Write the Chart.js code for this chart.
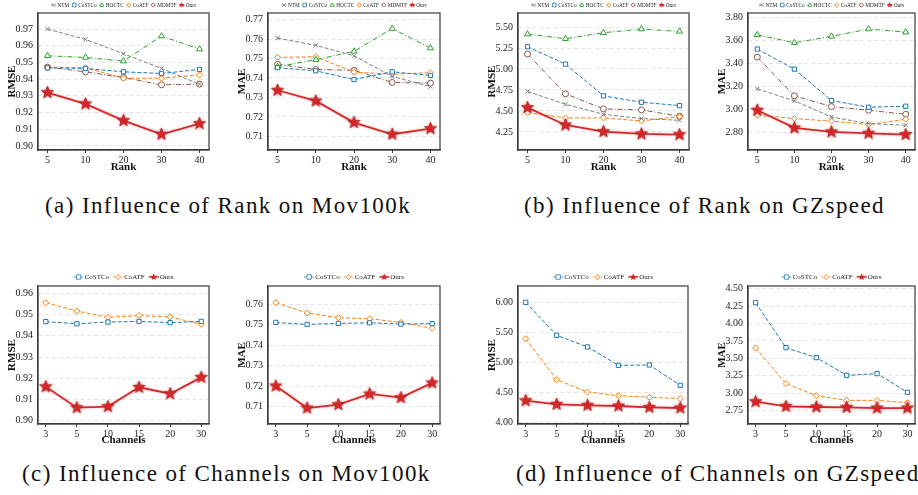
<!DOCTYPE html>
<html>
<head>
<meta charset="utf-8">
<script src="https://cdn.jsdelivr.net/npm/chart.js@4.4.0/dist/chart.umd.min.js"></script>
<style>
  body { margin: 0; background: #fff; width: 918px; height: 495px; position: relative; overflow: hidden; }
  canvas { position: absolute; }
  .cap { position: absolute; font-family: "Liberation Serif", serif; font-size: 23px; line-height: 23px;
         letter-spacing: 1.4px; white-space: nowrap; color: #111; }
</style>
</head>
<body>
<canvas id="p1"></canvas><canvas id="p2"></canvas><canvas id="p3"></canvas><canvas id="p4"></canvas>
<canvas id="p5"></canvas><canvas id="p6"></canvas><canvas id="p7"></canvas><canvas id="p8"></canvas>
<div class="cap" style="left:45px;top:194px">(a) Influence of Rank on Mov100k</div>
<div class="cap" style="left:524px;top:194px">(b) Influence of Rank on GZspeed</div>
<div class="cap" style="left:22px;top:462px">(c) Influence of Channels on Mov100k</div>
<div class="cap" style="left:516px;top:462px">(d) Influence of Channels on GZspeed</div>
<script>
const rankLabels = ['5', '10', '20', '30', '40'];
const channelLabels = ['3', '5', '10', '15', '20', '30'];

// (a) rank, Mov100k
const movRankRmseNTM    = [0.9700, 0.9638, 0.9552, 0.9464, 0.9370];
const movRankRmseCoSTCo = [0.9468, 0.9464, 0.9444, 0.9434, 0.9458];
const movRankRmseHOCTC  = [0.9540, 0.9530, 0.9508, 0.9658, 0.9580];
const movRankRmseCoATF  = [0.9472, 0.9468, 0.9406, 0.9406, 0.9426];
const movRankRmseMDMTF  = [0.9472, 0.9444, 0.9410, 0.9366, 0.9370];
const movRankRmseOurs   = [0.9320, 0.9252, 0.9152, 0.9070, 0.9134];

const movRankMaeNTM    = [0.7605, 0.7568, 0.7514, 0.7408, 0.7356];
const movRankMaeCoSTCo = [0.7453, 0.7437, 0.7392, 0.7432, 0.7413];
const movRankMaeHOCTC  = [0.7458, 0.7494, 0.7537, 0.7654, 0.7554];
const movRankMaeCoATF  = [0.7506, 0.7509, 0.7430, 0.7420, 0.7427];
const movRankMaeMDMTF  = [0.7470, 0.7444, 0.7439, 0.7377, 0.7374];
const movRankMaeOurs   = [0.7337, 0.7282, 0.7171, 0.7111, 0.7140];

// (b) rank, GZspeed
const gzRankRmseNTM    = [4.732, 4.580, 4.461, 4.409, 4.389];
const gzRankRmseCoSTCo = [5.265, 5.058, 4.680, 4.604, 4.564];
const gzRankRmseHOCTC  = [5.416, 5.361, 5.432, 5.476, 5.448];
const gzRankRmseCoATF  = [4.481, 4.417, 4.417, 4.381, 4.433];
const gzRankRmseMDMTF  = [5.178, 4.704, 4.525, 4.513, 4.437];
const gzRankRmseOurs   = [4.540, 4.333, 4.254, 4.226, 4.218];

const gzRankMaeNTM    = [3.180, 3.075, 2.936, 2.878, 2.864];
const gzRankMaeCoSTCo = [3.525, 3.351, 3.078, 3.020, 3.029];
const gzRankMaeHOCTC  = [3.649, 3.580, 3.635, 3.699, 3.672];
const gzRankMaeCoATF  = [2.951, 2.922, 2.899, 2.870, 2.916];
const gzRankMaeMDMTF  = [3.455, 3.119, 3.026, 2.994, 2.959];
const gzRankMaeOurs   = [2.994, 2.841, 2.806, 2.794, 2.783];

// (c) channels, Mov100k
const movChRmseCoSTCo = [0.9467, 0.9457, 0.9465, 0.9468, 0.9462, 0.9468];
const movChRmseCoATF  = [0.9556, 0.9517, 0.9487, 0.9496, 0.9489, 0.9454];
const movChRmseOurs   = [0.9160, 0.9061, 0.9066, 0.9157, 0.9127, 0.9204];

const movChMaeCoSTCo = [0.7512, 0.7502, 0.7507, 0.7510, 0.7504, 0.7506];
const movChMaeCoATF  = [0.7608, 0.7558, 0.7535, 0.7530, 0.7512, 0.7483];
const movChMaeOurs   = [0.7201, 0.7093, 0.7110, 0.7162, 0.7144, 0.7216];

// (d) channels, GZspeed
const gzChRmseCoSTCo = [6.000, 5.450, 5.256, 4.950, 4.956, 4.617];
const gzChRmseCoATF  = [5.394, 4.711, 4.506, 4.444, 4.417, 4.394];
const gzChRmseOurs   = [4.361, 4.300, 4.283, 4.272, 4.250, 4.239];

const gzChMaeCoSTCo = [4.299, 3.654, 3.511, 3.257, 3.281, 3.013];
const gzChMaeCoATF  = [3.649, 3.138, 2.965, 2.898, 2.898, 2.865];
const gzChMaeOurs   = [2.879, 2.812, 2.803, 2.798, 2.788, 2.788];

// y tick values
const ticksMovRmse  = [0.90, 0.91, 0.92, 0.93, 0.94, 0.95, 0.96, 0.97];
const ticksMovMae   = [0.71, 0.72, 0.73, 0.74, 0.75, 0.76, 0.77];
const ticksGzRmse   = [4.25, 4.50, 4.75, 5.00, 5.25, 5.50];
const ticksGzMae    = [2.80, 3.00, 3.20, 3.40, 3.60, 3.80];
const ticksMovChRmse = [0.90, 0.91, 0.92, 0.93, 0.94, 0.95, 0.96];
const ticksMovChMae  = [0.71, 0.72, 0.73, 0.74, 0.75, 0.76];
const ticksGzChRmse  = [4.00, 4.50, 5.00, 5.50, 6.00];
const ticksGzChMae   = [2.75, 3.00, 3.25, 3.50, 3.75, 4.00, 4.25, 4.50];

const FONT = '"Liberation Serif", "Times New Roman", serif';

function starPath(g, cx, cy, R, r) {
  g.beginPath();
  for (let i = 0; i < 10; i++) {
    const rad = i % 2 ? r : R;
    const a = -Math.PI / 2 + i * Math.PI / 5;
    g.lineTo(cx + rad * Math.cos(a), cy + rad * Math.sin(a));
  }
  g.closePath();
}
function makeStar(R) {
  const s = Math.ceil(R * 2 + 2);
  const c = document.createElement('canvas');
  c.width = s; c.height = s;
  const g = c.getContext('2d');
  starPath(g, s / 2, s / 2, R, R * 0.45);
  g.fillStyle = '#d62728'; g.fill();
  g.lineWidth = 0.7; g.strokeStyle = '#a81d1e'; g.stroke();
  return c;
}
const bigStar = makeStar(6.5);

const STYLE = {
  NTM:    { color: '#7f7f7f', dash: [4, 2],       marker: 'crossRot' },
  CoSTCo: { color: '#1f77b4', dash: [4, 2],       marker: 'rect' },
  HOCTC:  { color: '#2ca02c', dash: [5, 2, 1, 2], marker: 'triangle' },
  CoATF:  { color: '#ff7f0e', dash: [4, 2],       marker: 'rectRot' },
  MDMTF:  { color: '#8c564b', dash: [5, 2, 1, 2], marker: 'circle' },
  Ours:   { color: '#d62728', dash: [],           marker: 'star' }
};

// small marker for the legend handles
function legendMarker(g, name, x, y, r) {
  const st = STYLE[name];
  g.save();
  g.setLineDash([]);
  g.lineWidth = 0.8;
  g.strokeStyle = st.color;
  g.fillStyle = '#fff';
  g.beginPath();
  if (st.marker === 'rect') g.rect(x - r, y - r, 2 * r, 2 * r);
  else if (st.marker === 'rectRot') { g.moveTo(x, y - r * 1.3); g.lineTo(x + r, y); g.lineTo(x, y + r * 1.3); g.lineTo(x - r, y); g.closePath(); }
  else if (st.marker === 'triangle') { g.moveTo(x, y - r * 1.2); g.lineTo(x + r * 1.1, y + r * 0.8); g.lineTo(x - r * 1.1, y + r * 0.8); g.closePath(); }
  else if (st.marker === 'circle') g.arc(x, y, r, 0, Math.PI * 2);
  if (st.marker === 'crossRot') {
    g.moveTo(x - r, y - r); g.lineTo(x + r, y + r); g.moveTo(x + r, y - r); g.lineTo(x - r, y + r);
    g.stroke();
  } else if (st.marker === 'star') {
    starPath(g, x, y, r * 1.7, r * 0.75);
    g.fillStyle = st.color; g.fill();
  } else { g.fill(); g.stroke(); }
  g.restore();
}

const lineLegend = {
  id: 'lineLegend',
  afterDraw(chart, args, o) {
    const g = chart.ctx, ca = chart.chartArea;
    g.save();
    g.font = o.size + 'px ' + FONT;
    g.textBaseline = 'middle';
    const items = chart.data.datasets.map(ds => ({ ds, w: o.handle + o.gap + g.measureText(ds.label).width }));
    const total = items.reduce((s, it) => s + it.w, 0) + o.spacing * (items.length - 1);
    let x = (ca.left + ca.right) / 2 - total / 2;
    const y = ca.top - o.dy;
    items.forEach(it => {
      const st = STYLE[it.ds.label];
      g.strokeStyle = st.color;
      g.lineWidth = it.ds.label === 'Ours' ? 1.5 : 0.8;
      g.setLineDash(st.dash.map(d => d * 0.6));
      g.beginPath(); g.moveTo(x, y); g.lineTo(x + o.handle, y); g.stroke();
      legendMarker(g, it.ds.label, x + o.handle / 2, y, o.r);
      g.fillStyle = '#222';
      g.fillText(it.ds.label, x + o.handle + o.gap, y + 0.5);
      x += it.w + o.spacing;
    });
    g.restore();
  }
};

const frameAndGlow = {
  id: 'frameAndGlow',
  beforeDatasetsDraw(chart) {
    const g = chart.ctx, ca = chart.chartArea;
    g.save();
    g.strokeStyle = '#3a3a3a';
    g.lineWidth = 1.2;
    g.strokeRect(ca.left, ca.top, ca.right - ca.left, ca.bottom - ca.top);
    g.restore();
  },
  beforeDatasetDraw(chart, args) {
    if (chart.data.datasets[args.index].label === 'Ours') {
      chart.ctx.save();
      chart.ctx.shadowColor = 'rgba(214,39,40,0.3)';
      chart.ctx.shadowBlur = 3;
    }
  },
  afterDatasetDraw(chart, args) {
    if (chart.data.datasets[args.index].label === 'Ours') chart.ctx.restore();
  }
};

function panel(id, cfg) {
  const cv = document.getElementById(id);
  cv.width = cfg.w; cv.height = 174;
  cv.style.left = cfg.left + 'px'; cv.style.top = cfg.top + 'px';
  cv.style.width = cfg.w + 'px'; cv.style.height = '174px';
  const n = cfg.labels.length;
  const datasets = cfg.series.map(([name, vals]) => {
    const st = STYLE[name];
    const ours = name === 'Ours';
    return {
      label: name,
      data: vals.map((v, i) => ({ x: i, y: v })),
      borderColor: st.color,
      backgroundColor: st.color,
      borderWidth: ours ? 1.8 : 1,
      borderDash: st.dash,
      pointStyle: ours ? bigStar : st.marker,
      pointRadius: st.marker === 'triangle' ? 3.5 : 3,
      pointBorderWidth: 1,
      pointBorderColor: st.color,
      pointBackgroundColor: '#fff',
      order: ours ? 0 : 1,
      tension: 0
    };
  });
  new Chart(cv, {
    type: 'line',
    data: { datasets },
    plugins: [lineLegend, frameAndGlow],
    options: {
      responsive: false,
      animation: false,
      devicePixelRatio: 1,
      layout: { padding: { left: 0, right: cfg.pr, top: 13, bottom: 0 } },
      plugins: {
        legend: { display: false },
        tooltip: { enabled: false },
        lineLegend: cfg.legend
      },
      scales: {
        x: {
          type: 'linear',
          min: -0.25, max: n - 0.75,
          afterFit: s => { s.height = cfg.xh; },
          afterBuildTicks: s => { s.ticks = cfg.labels.map((_, i) => ({ value: i })); },
          ticks: {
            autoSkip: false, maxRotation: 0, padding: 1, color: '#222',
            font: { family: FONT, size: 10 },
            callback: v => cfg.labels[v]
          },
          grid: { drawOnChartArea: false, tickLength: 3, tickColor: '#333', tickWidth: 1 },
          border: { color: '#3a3a3a', width: 1.2 },
          title: { display: true, text: cfg.xTitle, color: '#111', padding: 0,
                   font: { family: FONT, size: 11, weight: 'bold' } }
        },
        y: {
          min: cfg.yMin, max: cfg.yMax,
          afterFit: s => { s.width = 38; },
          afterBuildTicks: s => { s.ticks = cfg.yTicks.map(v => ({ value: v })); },
          ticks: {
            padding: 5, color: '#222',
            font: { family: FONT, size: 10 },
            callback: v => v.toFixed(2)
          },
          grid: { color: '#dddddd', lineWidth: 0.8, drawTicks: false },
          border: { color: '#3a3a3a', width: 1.2, dash: [4, 3] },
          title: { display: true, text: cfg.yTitle, color: '#111', padding: { top: 6, bottom: 0 },
                   font: { family: FONT, size: 11, weight: 'bold' } }
        }
      }
    }
  });
}

const legendTop = { size: 5.3, handle: 5, gap: 1.5, spacing: 2.5, r: 1.8, dy: 8 };
const legendBottom = { size: 7, handle: 10, gap: 1, spacing: 4, r: 2.2, dy: 9 };

panel('p1', { left: 0, top: 0, w: 214, pr: 4, xh: 24, labels: rankLabels, xTitle: 'Rank', yTitle: 'RMSE',
  yMin: 0.8976, yMax: 0.9796, yTicks: ticksMovRmse, legend: legendTop,
  series: [['NTM', movRankRmseNTM], ['CoSTCo', movRankRmseCoSTCo], ['HOCTC', movRankRmseHOCTC],
           ['CoATF', movRankRmseCoATF], ['MDMTF', movRankRmseMDMTF], ['Ours', movRankRmseOurs]] });

panel('p2', { left: 230, top: 0, w: 215, pr: 4, xh: 24, labels: rankLabels, xTitle: 'Rank', yTitle: 'MAE',
  yMin: 0.703, yMax: 0.7734, yTicks: ticksMovMae, legend: legendTop,
  series: [['NTM', movRankMaeNTM], ['CoSTCo', movRankMaeCoSTCo], ['HOCTC', movRankMaeHOCTC],
           ['CoATF', movRankMaeCoATF], ['MDMTF', movRankMaeMDMTF], ['Ours', movRankMaeOurs]] });

panel('p3', { left: 480, top: 0, w: 214, pr: 4, xh: 24, labels: rankLabels, xTitle: 'Rank', yTitle: 'RMSE',
  yMin: 4.035, yMax: 5.667, yTicks: ticksGzRmse, legend: legendTop,
  series: [['NTM', gzRankRmseNTM], ['CoSTCo', gzRankRmseCoSTCo], ['HOCTC', gzRankRmseHOCTC],
           ['CoATF', gzRankRmseCoATF], ['MDMTF', gzRankRmseMDMTF], ['Ours', gzRankRmseOurs]] });

panel('p4', { left: 710, top: 0, w: 210, pr: 3, xh: 24, labels: rankLabels, xTitle: 'Rank', yTitle: 'MAE',
  yMin: 2.649, yMax: 3.838, yTicks: ticksGzMae, legend: legendTop,
  series: [['NTM', gzRankMaeNTM], ['CoSTCo', gzRankMaeCoSTCo], ['HOCTC', gzRankMaeHOCTC],
           ['CoATF', gzRankMaeCoATF], ['MDMTF', gzRankMaeMDMTF], ['Ours', gzRankMaeOurs]] });

panel('p5', { left: 0, top: 273, w: 214, pr: 4, xh: 23, labels: channelLabels, xTitle: 'Channels', yTitle: 'RMSE',
  yMin: 0.8984, yMax: 0.9635, yTicks: ticksMovChRmse, legend: legendBottom,
  series: [['CoSTCo', movChRmseCoSTCo], ['CoATF', movChRmseCoATF], ['Ours', movChRmseOurs]] });

panel('p6', { left: 230, top: 273, w: 215, pr: 4, xh: 23, labels: channelLabels, xTitle: 'Channels', yTitle: 'MAE',
  yMin: 0.7015, yMax: 0.769, yTicks: ticksMovChMae, legend: legendBottom,
  series: [['CoSTCo', movChMaeCoSTCo], ['CoATF', movChMaeCoATF], ['Ours', movChMaeOurs]] });

panel('p7', { left: 480, top: 273, w: 213, pr: 4, xh: 23, labels: channelLabels, xTitle: 'Channels', yTitle: 'RMSE',
  yMin: 3.972, yMax: 6.272, yTicks: ticksGzChRmse, legend: legendBottom,
  series: [['CoSTCo', gzChRmseCoSTCo], ['CoATF', gzChRmseCoATF], ['Ours', gzChRmseOurs]] });

panel('p8', { left: 710, top: 273, w: 210, pr: 3, xh: 23, labels: channelLabels, xTitle: 'Channels', yTitle: 'MAE',
  yMin: 2.559, yMax: 4.538, yTicks: ticksGzChMae, legend: legendBottom,
  series: [['CoSTCo', gzChMaeCoSTCo], ['CoATF', gzChMaeCoATF], ['Ours', gzChMaeOurs]] });
</script>
</body>
</html>
